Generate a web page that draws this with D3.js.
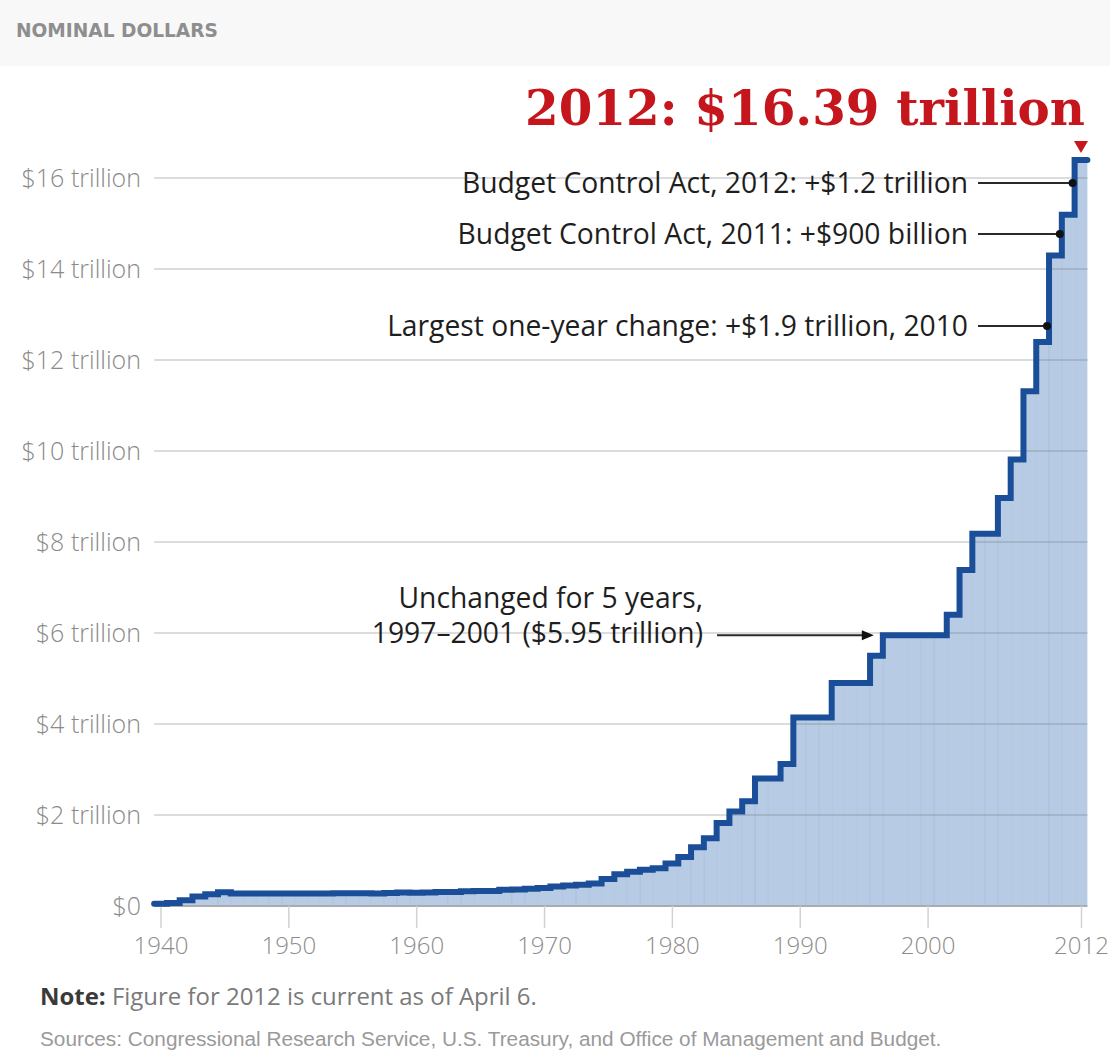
<!DOCTYPE html>
<html>
<head>
<meta charset="utf-8">
<script src="https://cdn.jsdelivr.net/npm/d3@7"></script>
<style>
  body { margin: 0; background: #fff; }
  svg { display: block; }
</style>
</head>
<body>
<svg id="chart" width="1110" height="1052"></svg>
<script>
// Statutory debt limit, trillions of nominal dollars, one value per year
const years = d3.range(1940, 2013);
const debtLimit = [
  0.049, 0.065, 0.125, 0.210, 0.260, 0.300, 0.275, 0.275, 0.275, 0.275, // 1940-1949
  0.275, 0.275, 0.275, 0.275, 0.281, 0.281, 0.278, 0.275, 0.288, 0.295, // 1950-1959
  0.293, 0.298, 0.308, 0.309, 0.324, 0.328, 0.330, 0.358, 0.365, 0.377, // 1960-1969
  0.395, 0.430, 0.450, 0.465, 0.495, 0.595, 0.700, 0.752, 0.798, 0.830, // 1970-1979
  0.935, 1.079, 1.290, 1.490, 1.824, 2.079, 2.300, 2.800, 2.800, 3.123, // 1980-1989
  4.145, 4.145, 4.145, 4.900, 4.900, 4.900, 5.500, 5.950, 5.950, 5.950, // 1990-1999
  5.950, 5.950, 6.400, 7.384, 8.184, 8.184, 8.965, 9.815, 11.315, 12.394, // 2000-2009
  14.294, 15.194, 16.394                                                // 2010-2012
];

const yTicks = [0, 2, 4, 6, 8, 10, 12, 14, 16];
const yTickLabels = ["$0", "$2 trillion", "$4 trillion", "$6 trillion", "$8 trillion",
                     "$10 trillion", "$12 trillion", "$14 trillion", "$16 trillion"];
const xTicks = [1940, 1950, 1960, 1970, 1980, 1990, 2000, 2012];
const xTickLabels = ["1940", "1950", "1960", "1970", "1980", "1990", "2000", "2012"];

// Callouts point at the riser of the given year, at the given height
const callouts = [
  { text: "Budget Control Act, 2012: +$1.2 trillion", year: 2012, value: 15.89 },
  { text: "Budget Control Act, 2011: +$900 billion", year: 2011, value: 14.77 },
  { text: "Largest one-year change: +$1.9 trillion, 2010", year: 2010, value: 12.75 }
];
const plateauNote = { lines: ["Unchanged for 5 years,", "1997\u20132001 ($5.95 trillion)"], year: 1997, value: 5.95 };

const headline = "2012: $16.39 trillion";
const kicker = "NOMINAL DOLLARS";
const noteLabel = "Note:";
const noteText = " Figure for 2012 is current as of April 6.";
const sourceText = "Sources: Congressional Research Service, U.S. Treasury, and Office of Management and Budget.";

const data = years.map((year, i) => ({ year, value: debtLimit[i] }));
const last = data[data.length - 1];

const svg = d3.select("#chart");
const SANS = "'Open Sans', Lato, sans-serif";

// Scale a text element's font size so it spans the given width; returns the size used
function fitWidth(sel, width) {
  const fs = +sel.attr("font-size");
  const w = sel.node().getComputedTextLength();
  const size = fs * width / w;
  sel.attr("font-size", size);
  return size;
}

const x = d3.scaleLinear().domain([1940, 2012]).range([160.5, 1081]);
const y = d3.scaleLinear().domain([0, 16]).range([906, 178]);

const xLeft = x(1939.5), xRight = x(2012.5);

// Header band and kicker
svg.append("rect").attr("x", 0).attr("y", 0).attr("width", 1110).attr("height", 66)
  .attr("fill", "#f8f8f8");
fitWidth(svg.append("text").attr("x", 16).attr("y", 37).text(kicker)
  .attr("font-family", "'DejaVu Sans', sans-serif").attr("font-weight", "bold")
  .attr("font-size", 18).attr("fill", "#8e8e8e"), 202);

// Yearly columns under the step line
const cols = svg.append("g");
cols.selectAll("rect").data(data).join("rect")
  .attr("x", d => x(d.year - 0.5))
  .attr("width", d => x(d.year + 0.5) - x(d.year - 0.5))
  .attr("y", d => y(d.value))
  .attr("height", d => y(0) - y(d.value))
  .attr("fill", "#b7cce4");
cols.selectAll("line").data(data.slice(1)).join("line")
  .attr("x1", d => x(d.year - 0.5)).attr("x2", d => x(d.year - 0.5))
  .attr("y1", d => y(d.value)).attr("y2", y(0))
  .attr("stroke", "rgba(90,125,170,0.16)").attr("stroke-width", 1);

// Horizontal gridlines
svg.append("g").selectAll("line").data(yTicks.filter(t => t > 0)).join("line")
  .attr("x1", xLeft).attr("x2", xRight)
  .attr("y1", d => y(d)).attr("y2", d => y(d))
  .attr("stroke", "rgba(105,110,120,0.24)").attr("stroke-width", 2);

// Y labels
svg.append("g").selectAll("text").data(yTicks).join("text")
  .attr("x", 141).attr("y", d => y(d)).attr("dy", "0.35em")
  .attr("text-anchor", "end")
  .attr("font-family", SANS).attr("font-weight", 300).attr("font-size", 25)
  .attr("fill", "#8a8a8a")
  .text((d, i) => yTickLabels[i]);

// Baseline and x axis
svg.append("line").attr("x1", xLeft).attr("x2", xRight)
  .attr("y1", y(0)).attr("y2", y(0))
  .attr("stroke", "#a8acb2").attr("stroke-width", 2);

const xAxis = d3.axisBottom(x).tickValues(xTicks)
  .tickFormat((d, i) => xTickLabels[i]).tickSize(22).tickPadding(9);
const gx = svg.append("g").attr("transform", `translate(0,${y(0)})`).call(xAxis);
gx.select(".domain").remove();
gx.selectAll(".tick line").attr("stroke", "#d2d2d2").attr("stroke-width", 1.5);
gx.selectAll(".tick text")
  .attr("font-family", SANS).attr("font-weight", 300).attr("font-size", 24)
  .attr("fill", "#8c8c8c");

// Step line
const pts = data.map(d => [d.year - 0.5, d.value]).concat([[last.year + 0.5, last.value]]);
const stepLine = d3.line().x(d => x(d[0])).y(d => y(d[1])).curve(d3.curveStepAfter);
svg.append("path").attr("d", stepLine(pts))
  .attr("fill", "none").attr("stroke", "#1b4e98").attr("stroke-width", 6)
  .attr("stroke-linejoin", "miter").attr("stroke-linecap", "round");

// Callouts on the right
const cg = svg.append("g");
const calloutTexts = callouts.map(c => {
  const cy = y(c.value);
  const cx = x(c.year - 0.5) - 2;
  const t = cg.append("text").attr("x", 968).attr("y", cy).attr("dy", "0.35em")
    .attr("text-anchor", "end")
    .attr("font-family", SANS).attr("font-size", 26).attr("fill", "#1e1e1e")
    .text(c.text);
  cg.append("line").attr("x1", 978).attr("x2", cx).attr("y1", cy).attr("y2", cy)
    .attr("stroke", "#2a2a2a").attr("stroke-width", 2);
  cg.append("circle").attr("cx", cx).attr("cy", cy).attr("r", 4).attr("fill", "#111");
  return t;
});
// All callouts share the size that makes the first one span its width
const calloutSize = fitWidth(calloutTexts[0], 506);
calloutTexts.forEach(t => t.attr("font-size", calloutSize));

// Plateau note with arrow
const py = y(plateauNote.value);
const tip = x(plateauNote.year - 0.5) - 9;
const pt = cg.append("text").attr("text-anchor", "end")
  .attr("font-family", SANS).attr("font-size", calloutSize).attr("fill", "#1e1e1e");
plateauNote.lines.forEach((s, i) => {
  pt.append("tspan").attr("x", 703).attr("y", py - 27 + i * 35).text(s);
});
cg.append("line").attr("x1", 717).attr("x2", tip - 8).attr("y1", py).attr("y2", py)
  .attr("stroke", "#2a2a2a").attr("stroke-width", 2);
cg.append("path")
  .attr("d", `M${tip},${py} L${tip - 12},${py - 5} L${tip - 12},${py + 5} Z`)
  .attr("fill", "#111");

// Headline value and marker
const hx = x(last.year);
svg.append("path")
  .attr("d", `M${hx - 7},${y(last.value) - 19} L${hx + 7},${y(last.value) - 19} L${hx},${y(last.value) - 7} Z`)
  .attr("fill", "#c8161d");
fitWidth(svg.append("text").attr("x", 1085).attr("y", 125).attr("text-anchor", "end")
  .attr("font-family", "'DejaVu Serif', serif").attr("font-weight", "bold")
  .attr("font-size", 54).attr("fill", "#c4161c").text(headline), 560);

// Footnotes
const note = svg.append("text").attr("x", 40).attr("y", 1005)
  .attr("font-family", SANS).attr("font-size", 21).attr("fill", "#7a7a7a");
note.append("tspan").attr("font-weight", "bold").attr("fill", "#3a3a3a").text(noteLabel);
note.append("tspan").text(noteText);
fitWidth(note, 497);
fitWidth(svg.append("text").attr("x", 40).attr("y", 1046)
  .attr("font-family", "'Liberation Sans', Arial, sans-serif").attr("font-size", 17.5)
  .attr("fill", "#9a9a9a").text(sourceText), 902);
</script>
</body>
</html>
